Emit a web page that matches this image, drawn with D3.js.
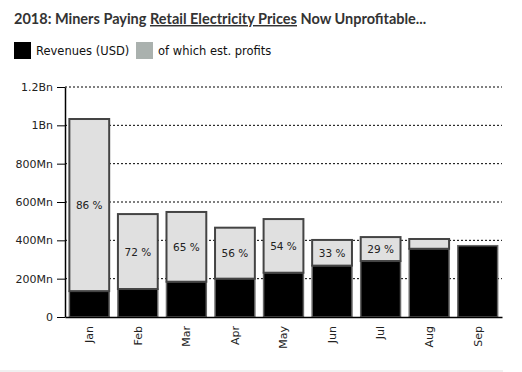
<!DOCTYPE html>
<html>
<head>
<meta charset="utf-8">
<script src="https://cdn.jsdelivr.net/npm/d3@7"></script>
<style>
  body { margin: 0; background: #fff; }
  svg { display: block; }
</style>
</head>
<body>
<svg id="chart" width="522" height="372"></svg>
<script>
// data (millions USD)
var months = ["Jan", "Feb", "Mar", "Apr", "May", "Jun", "Jul", "Aug", "Sep"];
var revenues = [1033, 537, 548, 466, 511, 402, 417, 407, 372];
var profits = [898, 391, 364, 266, 280, 134, 125, 51, 0];
var profitLabels = ["86 %", "72 %", "65 %", "56 %", "54 %", "33 %", "29 %", "", ""];
var yTicks = [0, 200, 400, 600, 800, 1000, 1200];
var yTickLabels = ["0", "200Mn", "400Mn", "600Mn", "800Mn", "1Bn", "1.2Bn"];

var svg = d3.select("#chart");
var axisFont = "DejaVu Sans, Verdana, sans-serif";

// title
var title = svg.append("text")
    .attr("x", 14).attr("y", 24)
    .attr("font-family", "Lato, 'Open Sans', sans-serif")
    .attr("font-weight", "bold")
    .attr("font-size", 14.5)
    .attr("fill", "#333");
title.append("tspan").text("2018: Miners Paying ");
title.append("tspan").attr("text-decoration", "underline").text("Retail Electricity Prices");
title.append("tspan").text(" Now Unprofitable...");

// legend
var legend = [
    { label: "Revenues (USD)", color: "#000", x: 14 },
    { label: "of which est. profits", color: "#aab1ae", x: 136 }
];
legend.forEach(function (d) {
    svg.append("rect").attr("x", d.x).attr("y", 42).attr("width", 17).attr("height", 17).attr("fill", d.color);
    svg.append("text").attr("x", d.x + 22).attr("y", 55)
        .attr("font-family", axisFont).attr("font-size", 11.5).attr("fill", "#111")
        .text(d.label);
});

var x = d3.scaleBand().domain(months).range([65, 502]).paddingInner(0.18).paddingOuter(0.09);
var y = d3.scaleLinear().domain([0, 1200]).range([317, 87]);

// gridlines
svg.append("g").selectAll("line")
    .data(yTicks.slice(1))
    .join("line")
    .attr("x1", 65).attr("x2", 502)
    .attr("y1", function (d) { return y(d); })
    .attr("y2", function (d) { return y(d); })
    .attr("stroke", "#000").attr("stroke-width", 1)
    .attr("stroke-dasharray", "2,2");

// y axis
var yAxis = svg.append("g")
    .attr("transform", "translate(65,0)")
    .call(d3.axisLeft(y).tickValues(yTicks).tickSize(8).tickSizeOuter(0)
        .tickFormat(function (d, i) { return yTickLabels[i]; }));
yAxis.select(".domain").attr("stroke", "#000").attr("stroke-width", 1.5);
yAxis.selectAll(".tick line").attr("stroke", "#000");
yAxis.selectAll(".tick text")
    .attr("font-family", axisFont).attr("font-size", 11).attr("fill", "#222").attr("x", -12);

// bars: revenue (black) with profit part (light grey) on top
var bars = svg.append("g").selectAll("g")
    .data(months)
    .join("g");

bars.append("rect")
    .attr("x", function (d) { return x(d); })
    .attr("width", x.bandwidth())
    .attr("y", function (d, i) { return y(revenues[i] - profits[i]); })
    .attr("height", function (d, i) { return y(0) - y(revenues[i] - profits[i]); })
    .attr("fill", "#000")
    .attr("stroke", "#666").attr("stroke-width", 1.5);

bars.filter(function (d, i) { return profits[i] > 0; })
    .append("rect")
    .attr("x", function (d) { return x(d); })
    .attr("width", x.bandwidth())
    .attr("y", function (d) { var i = months.indexOf(d); return y(revenues[i]); })
    .attr("height", function (d) { var i = months.indexOf(d); return y(revenues[i] - profits[i]) - y(revenues[i]); })
    .attr("fill", "#e0e0e0")
    .attr("stroke", "#444").attr("stroke-width", 2);

bars.append("text")
    .attr("x", function (d) { return x(d) + x.bandwidth() / 2; })
    .attr("y", function (d, i) { return (y(revenues[i]) + y(revenues[i] - profits[i])) / 2 + 4; })
    .attr("text-anchor", "middle")
    .attr("font-family", axisFont).attr("font-size", 10.5).attr("fill", "#222")
    .text(function (d, i) { return profitLabels[i]; });

// x axis
var xAxis = svg.append("g")
    .attr("transform", "translate(0,317)")
    .call(d3.axisBottom(x).tickSize(0).tickSizeOuter(0));
xAxis.select(".domain").attr("stroke", "#000").attr("stroke-width", 1.5);
xAxis.selectAll(".tick text")
    .attr("font-family", axisFont).attr("font-size", 11).attr("fill", "#222")
    .attr("transform", "rotate(-90)")
    .attr("text-anchor", "end")
    .attr("x", -9).attr("y", 0).attr("dy", "0.35em");

// faint bottom border
svg.append("rect").attr("x", 0).attr("y", 370).attr("width", 503).attr("height", 2).attr("fill", "#f0f0f0");
</script>
</body>
</html>
